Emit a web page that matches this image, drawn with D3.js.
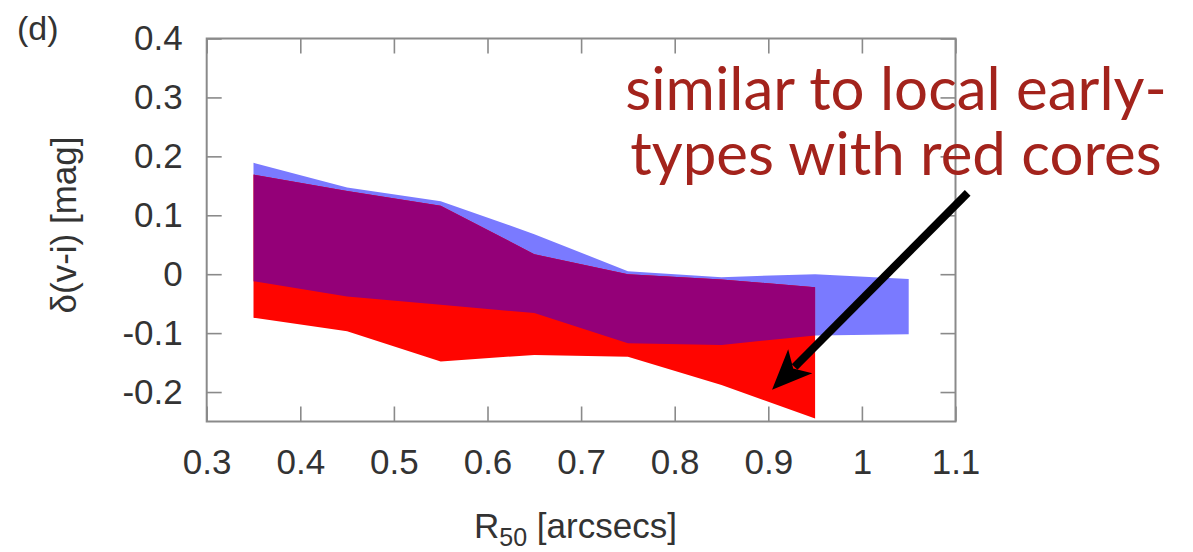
<!DOCTYPE html>
<html>
<head>
<meta charset="utf-8">
<script src="https://cdn.jsdelivr.net/npm/d3@7"></script>
<style>
  body { margin: 0; background: #fff; }
  svg { display: block; }
</style>
</head>
<body>
<div id="chart"></div>
<script>
"use strict";

// R50 bins and the two colour-gradient bands
var binsBlue = [0.35, 0.45, 0.55, 0.65, 0.75, 0.85, 0.95, 1.05];
var blueUpper = [0.189, 0.147, 0.124, 0.068, 0.005, -0.005, 0.0, -0.008];
var blueLower = [-0.012, -0.038, -0.052, -0.066, -0.117, -0.120, -0.104, -0.102];

var binsRed = [0.35, 0.45, 0.55, 0.65, 0.75, 0.85, 0.95];
var redUpper = [0.169, 0.141, 0.116, 0.034, 0.0, -0.009, -0.022];
var redLower = [-0.074, -0.097, -0.148, -0.137, -0.140, -0.188, -0.245];

var xTicks = [0.3, 0.4, 0.5, 0.6, 0.7, 0.8, 0.9, 1, 1.1];
var yTicks = [-0.2, -0.1, 0, 0.1, 0.2, 0.3, 0.4];

var note = ["similar to local early-", "types with red cores"];
// arrow in data coordinates: [start, tip]
var arrowPts = [[1.113, 0.138], [0.904, -0.196]];

var width = 1193, height = 552;
var margin = { top: 38.5, right: 237.5, bottom: 130.5, left: 206.7 };
var w = width - margin.left - margin.right,
    h = height - margin.top - margin.bottom;
var labelFont = "'Liberation Sans', Arial, sans-serif";

var x = d3.scaleLinear().domain([0.3, 1.1]).range([0, w]);
var y = d3.scaleLinear().domain([-0.25, 0.4]).range([h, 0]);

var svg = d3.select("#chart").append("svg")
    .attr("width", width)
    .attr("height", height);

var g = svg.append("g")
    .attr("transform", "translate(" + margin.left + "," + margin.top + ")");

function band(xs, up, lo) {
    return xs.map(function (v, i) { return { x: v, y0: lo[i], y1: up[i] }; });
}
var area = d3.area()
    .x(function (d) { return x(d.x); })
    .y0(function (d) { return y(d.y0); })
    .y1(function (d) { return y(d.y1); });

var blue = band(binsBlue, blueUpper, blueLower);
var red = band(binsRed, redUpper, redLower);

svg.append("defs").append("clipPath")
    .attr("id", "redClip")
    .append("path")
    .attr("d", area(red));

g.append("path").attr("d", area(blue)).attr("fill", "#7a7aff");
g.append("path").attr("d", area(red)).attr("fill", "#ff0500");
// overlap of the two bands
g.append("path").attr("d", area(blue)).attr("fill", "#940078")
    .attr("clip-path", "url(#redClip)");

// frame + inward ticks on all sides
var tickLen = 15;
var fmt = function (d) { return String(d); };
function styleAxis(sel) {
    sel.select(".domain").remove();
    sel.selectAll(".tick line").attr("stroke", "#8a8a8a").attr("stroke-width", 1.6);
    sel.selectAll(".tick text")
        .attr("fill", "#333")
        .style("font-family", labelFont)
        .style("font-size", "35px");
}
g.append("g").attr("transform", "translate(0," + h + ")")
    .call(d3.axisBottom(x).tickValues(xTicks).tickSize(-tickLen).tickPadding(28)
        .tickFormat(fmt))
    .call(styleAxis);
g.append("g")
    .call(d3.axisTop(x).tickValues(xTicks).tickSize(-tickLen).tickFormat(""))
    .call(styleAxis);
g.append("g")
    .call(d3.axisLeft(y).tickValues(yTicks).tickSize(-tickLen).tickPadding(24)
        .tickFormat(fmt))
    .call(styleAxis);
g.append("g").attr("transform", "translate(" + w + ",0)")
    .call(d3.axisRight(y).tickValues(yTicks).tickSize(-tickLen).tickFormat(""))
    .call(styleAxis);

g.append("rect")
    .attr("width", w).attr("height", h)
    .attr("fill", "none")
    .attr("stroke", "#8a8a8a")
    .attr("stroke-width", 2);

// axis titles
var xl = svg.append("text")
    .attr("x", 474)
    .attr("y", 538)
    .attr("fill", "#333")
    .style("font-family", labelFont)
    .style("font-size", "35px");
xl.append("tspan").text("R");
xl.append("tspan").attr("dy", 8).style("font-size", "25px").text("50");
xl.append("tspan").attr("dy", -8).text(" [arcsecs]");

svg.append("text")
    .attr("transform", "translate(76,225) rotate(-90)")
    .attr("text-anchor", "middle")
    .attr("fill", "#333")
    .style("font-family", labelFont)
    .style("font-size", "35px")
    .text("δ(v-i) [mag]");

svg.append("text")
    .attr("x", 17).attr("y", 40)
    .attr("fill", "#333")
    .style("font-family", labelFont)
    .style("font-size", "34px")
    .text("(d)");

// annotation
svg.selectAll(".note").data(note).enter().append("text")
    .attr("class", "note")
    .attr("x", 896)
    .attr("y", function (d, i) { return 110 + i * 65; })
    .attr("text-anchor", "middle")
    .attr("fill", "#a3231c")
    .style("font-family", "Lato, 'Open Sans', sans-serif")
    .style("font-size", "60px")
    .text(function (d) { return d; });

var p0 = [margin.left + x(arrowPts[0][0]), margin.top + y(arrowPts[0][1])],
    p1 = [margin.left + x(arrowPts[1][0]), margin.top + y(arrowPts[1][1])];
var ang = Math.atan2(p1[1] - p0[1], p1[0] - p0[0]);
var headLen = 40, headW = 17;
var base = [p1[0] - headLen * Math.cos(ang), p1[1] - headLen * Math.sin(ang)];
svg.append("line")
    .attr("x1", p0[0]).attr("y1", p0[1])
    .attr("x2", p1[0] + (headLen - 8) * -Math.cos(ang))
    .attr("y2", p1[1] + (headLen - 8) * -Math.sin(ang))
    .attr("stroke", "#000").attr("stroke-width", 8);
var nx = -Math.sin(ang), ny = Math.cos(ang);
var notch = [p1[0] - (headLen - 10) * Math.cos(ang), p1[1] - (headLen - 10) * Math.sin(ang)];
svg.append("path")
    .attr("d", "M" + p1 + "L" + [base[0] + nx * headW, base[1] + ny * headW] +
        "L" + notch + "L" + [base[0] - nx * headW, base[1] - ny * headW] + "Z")
    .attr("fill", "#000");
</script>
</body>
</html>
